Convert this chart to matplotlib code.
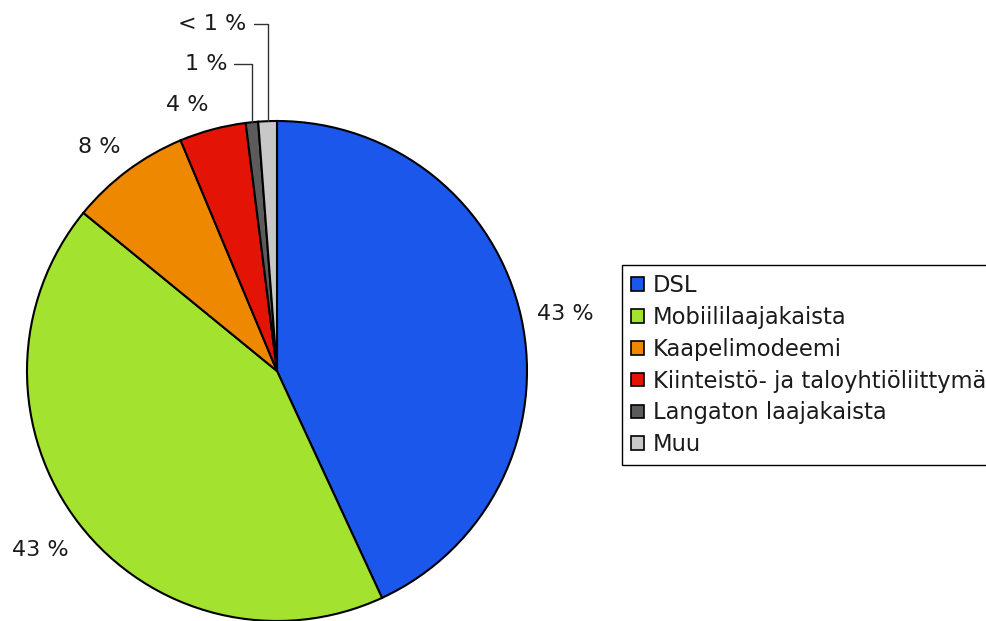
import numpy as np
import matplotlib
matplotlib.use("Agg")
import matplotlib.pyplot as plt
from matplotlib.patches import Patch

# data (percent)
categories = ["DSL", "Mobiililaajakaista", "Kaapelimodeemi",
              "Kiinteistö- ja taloyhtiöliittymä", "Langaton laajakaista", "Muu"]
shares = [43.1, 42.8, 7.8, 4.3, 0.8, 1.2]
value_labels = ["43 %", "43 %", "8 %", "4 %", "1 %", "< 1 %"]
colors = ["#1c57eb", "#a3e22f", "#ee8800", "#e31306", "#5b5b5b", "#c8c8c8"]

W, H = 986, 621
cx, cy, R = 277, 371, 250   # pie centre and radius in pixels

fig = plt.figure(figsize=(W / 100, H / 100), dpi=100)
ax = fig.add_axes([0, 0, 1, 1])

wedges, _ = ax.pie(shares, colors=colors, startangle=90, counterclock=False,
                   radius=1, wedgeprops=dict(edgecolor="black", linewidth=1.5))
ax.set_xlim(-cx / R, (W - cx) / R)
ax.set_ylim(-(H - cy) / R, cy / R)
ax.axis("off")

txt = dict(fontsize=16, color="#1a1a1a", va="center")

# big slices: label just outside the middle angle, anchored at its near side
nudge = [0, 2.9, -1.8, -0.5]        # degrees
dist = [1.066, 1.10, 1.093, 1.099]
for w, lab, dn, r in zip(wedges[:4], value_labels[:4], nudge, dist):
    mid = np.deg2rad((w.theta1 + w.theta2) / 2 + dn)
    x, y = r * np.cos(mid), r * np.sin(mid)
    ax.text(x, y, lab, ha="left" if x > 0 else "right", **txt)

# small slices: label above with elbow leader line
offsets = [(-0.184, 0.235), (-0.22, 0.389)]
for w, lab, (dx, ty) in zip(wedges[4:], value_labels[4:], offsets):
    mid = np.deg2rad((w.theta1 + w.theta2) / 2)
    px, py = np.cos(mid), np.sin(mid)
    ax.annotate(lab, xy=(px, py), xytext=(px + dx, py + ty), ha="center", **txt,
                arrowprops=dict(arrowstyle="-", color="#333333", lw=1,
                                connectionstyle="angle,angleA=0,angleB=90,rad=0",
                                relpos=(1, 0.5), shrinkA=3, shrinkB=0))

handles = [Patch(facecolor=c, edgecolor="black", linewidth=1.2) for c in colors]
leg = fig.legend(handles, categories, loc="upper left",
                 bbox_to_anchor=(622 / W, 1 - 265 / H), borderaxespad=0,
                 fontsize=16.3, frameon=True, fancybox=False, framealpha=1,
                 handlelength=0.55, handleheight=0.55, handletextpad=0.4,
                 labelspacing=0.39, borderpad=0.4)
leg.get_frame().set_edgecolor("black")
leg.get_frame().set_linewidth(1)
for t in leg.get_texts():
    t.set_color("#1a1a1a")

fig.savefig("out.png", dpi=100)
